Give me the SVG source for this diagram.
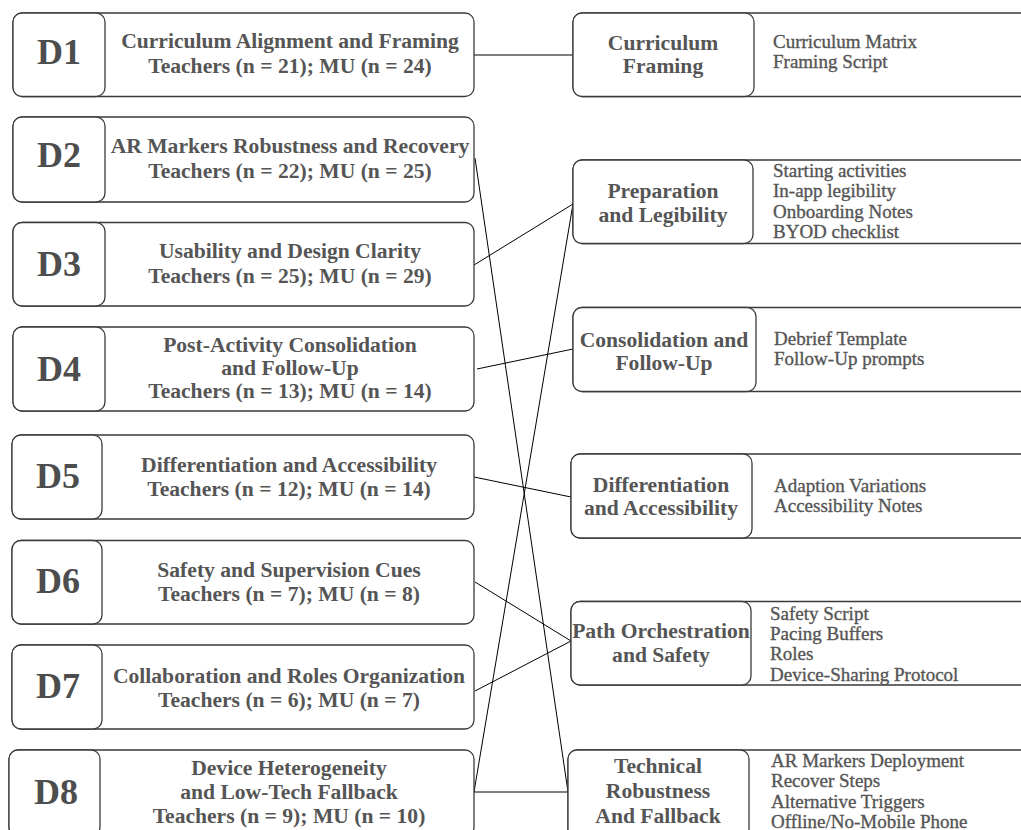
<svg xmlns="http://www.w3.org/2000/svg" width="1021" height="830" viewBox="0 0 1021 830">
<style>
.box{fill:#fff;stroke:#3a3a3a;stroke-width:1.3}
.dl{font-family:"Liberation Serif",serif;font-weight:bold;font-size:36px;fill:#4d4d4d;text-anchor:middle}
.h{font-family:"Liberation Serif",serif;font-weight:bold;font-size:21.6px;fill:#555;text-anchor:middle}
.it{font-family:"Liberation Serif",serif;font-size:19px;fill:#555;stroke:#555;stroke-width:0.35}
.c{stroke:#000;stroke-width:1;fill:none}
</style>
<rect width="1021" height="830" fill="#fff"/>
<g id="connectors">
<line class="c" x1="474" y1="55" x2="573" y2="55"/>
<line class="c" x1="475" y1="158" x2="568" y2="792"/>
<line class="c" x1="474" y1="265" x2="573" y2="204"/>
<line class="c" x1="477" y1="369" x2="573" y2="349"/>
<line class="c" x1="474" y1="477" x2="571" y2="497"/>
<line class="c" x1="475" y1="582" x2="571" y2="641"/>
<line class="c" x1="475" y1="691" x2="571" y2="641"/>
<line class="c" x1="474" y1="792" x2="568" y2="792"/>
<line class="c" x1="474" y1="792" x2="573" y2="204"/>
</g>
<g id="D1">
<rect class="box" x="13" y="13" width="461" height="83.5" rx="9"/>
<rect class="box" x="13" y="13" width="92" height="83.5" rx="9"/>
<text class="dl" x="59" y="64">D1</text>
<text class="h" x="290" y="48">Curriculum Alignment and Framing</text>
<text class="h" x="290" y="73">Teachers (n = 21); MU (n = 24)</text>
</g>
<g id="D2">
<rect class="box" x="13" y="117" width="461" height="85" rx="9"/>
<rect class="box" x="13" y="117" width="92" height="85" rx="9"/>
<text class="dl" x="59" y="167">D2</text>
<text class="h" x="290" y="153">AR Markers Robustness and Recovery</text>
<text class="h" x="290" y="178">Teachers (n = 22); MU (n = 25)</text>
</g>
<g id="D3">
<rect class="box" x="13" y="222.5" width="461" height="83.5" rx="9"/>
<rect class="box" x="13" y="222.5" width="92" height="83.5" rx="9"/>
<text class="dl" x="59" y="276">D3</text>
<text class="h" x="290" y="258">Usability and Design Clarity</text>
<text class="h" x="290" y="283">Teachers (n = 25); MU (n = 29)</text>
</g>
<g id="D4">
<rect class="box" x="13" y="327" width="461" height="84" rx="9"/>
<rect class="box" x="13" y="327" width="92" height="84" rx="9"/>
<text class="dl" x="59" y="381">D4</text>
<text class="h" x="290" y="352">Post-Activity Consolidation</text>
<text class="h" x="290" y="375">and Follow-Up</text>
<text class="h" x="290" y="398">Teachers (n = 13); MU (n = 14)</text>
</g>
<g id="D5">
<rect class="box" x="12" y="435" width="462" height="84" rx="9"/>
<rect class="box" x="12" y="435" width="90" height="84" rx="9"/>
<text class="dl" x="58" y="488">D5</text>
<text class="h" x="289" y="472">Differentiation and Accessibility</text>
<text class="h" x="289" y="496">Teachers (n = 12); MU (n = 14)</text>
</g>
<g id="D6">
<rect class="box" x="12" y="540.5" width="462" height="83.5" rx="9"/>
<rect class="box" x="12" y="540.5" width="90" height="83.5" rx="9"/>
<text class="dl" x="58" y="593">D6</text>
<text class="h" x="289" y="577">Safety and Supervision Cues</text>
<text class="h" x="289" y="601">Teachers (n = 7); MU (n = 8)</text>
</g>
<g id="D7">
<rect class="box" x="12" y="645" width="462" height="84" rx="9"/>
<rect class="box" x="12" y="645" width="90" height="84" rx="9"/>
<text class="dl" x="58" y="698">D7</text>
<text class="h" x="289" y="683">Collaboration and Roles Organization</text>
<text class="h" x="289" y="707">Teachers (n = 6); MU (n = 7)</text>
</g>
<g id="D8">
<rect class="box" x="9" y="750" width="465" height="86" rx="9"/>
<rect class="box" x="9" y="750" width="91" height="86" rx="9"/>
<text class="dl" x="56" y="804">D8</text>
<text class="h" x="289" y="775">Device Heterogeneity</text>
<text class="h" x="289" y="799">and Low-Tech Fallback</text>
<text class="h" x="289" y="823">Teachers (n = 9); MU (n = 10)</text>
</g>
<g id="R1">
<rect class="box" x="573" y="13" width="470" height="83.5" rx="9"/>
<rect class="box" x="573" y="13" width="181" height="83.5" rx="9"/>
<text class="h" x="663" y="50">Curriculum</text>
<text class="h" x="663" y="73">Framing</text>
<text class="it" x="773" y="48">Curriculum Matrix</text>
<text class="it" x="773" y="68">Framing Script</text>
</g>
<g id="R2">
<rect class="box" x="573" y="160" width="470" height="83.5" rx="9"/>
<rect class="box" x="573" y="160" width="180" height="83.5" rx="9"/>
<text class="h" x="663" y="198">Preparation</text>
<text class="h" x="663" y="222">and Legibility</text>
<text class="it" x="773" y="177">Starting activities</text>
<text class="it" x="773" y="197">In-app legibility</text>
<text class="it" x="773" y="218">Onboarding Notes</text>
<text class="it" x="773" y="238">BYOD checklist</text>
</g>
<g id="R3">
<rect class="box" x="573" y="307.5" width="470" height="84" rx="9"/>
<rect class="box" x="573" y="307.5" width="183" height="84" rx="9"/>
<text class="h" x="664" y="347">Consolidation and</text>
<text class="h" x="664" y="370">Follow-Up</text>
<text class="it" x="774" y="345">Debrief Template</text>
<text class="it" x="774" y="365">Follow-Up prompts</text>
</g>
<g id="R4">
<rect class="box" x="571" y="454" width="470" height="84" rx="9"/>
<rect class="box" x="571" y="454" width="181" height="84" rx="9"/>
<text class="h" x="661" y="492">Differentiation</text>
<text class="h" x="661" y="515">and Accessibility</text>
<text class="it" x="774" y="492">Adaption Variations</text>
<text class="it" x="774" y="512">Accessibility Notes</text>
</g>
<g id="R5">
<rect class="box" x="571" y="601.5" width="470" height="83.5" rx="9"/>
<rect class="box" x="571" y="601.5" width="180" height="83.5" rx="9"/>
<text class="h" x="661" y="638">Path Orchestration</text>
<text class="h" x="661" y="662">and Safety</text>
<text class="it" x="770" y="620">Safety Script</text>
<text class="it" x="770" y="640">Pacing Buffers</text>
<text class="it" x="770" y="660">Roles</text>
<text class="it" x="770" y="681">Device-Sharing Protocol</text>
</g>
<g id="R6">
<rect class="box" x="568" y="750" width="470" height="90" rx="9"/>
<rect class="box" x="568" y="750" width="181" height="90" rx="9"/>
<text class="h" x="658" y="773">Technical</text>
<text class="h" x="658" y="798">Robustness</text>
<text class="h" x="658" y="823">And Fallback</text>
<text class="it" x="771" y="767">AR Markers Deployment</text>
<text class="it" x="771" y="787">Recover Steps</text>
<text class="it" x="771" y="808">Alternative Triggers</text>
<text class="it" x="771" y="828">Offline/No-Mobile Phone</text>
</g>
</svg>
